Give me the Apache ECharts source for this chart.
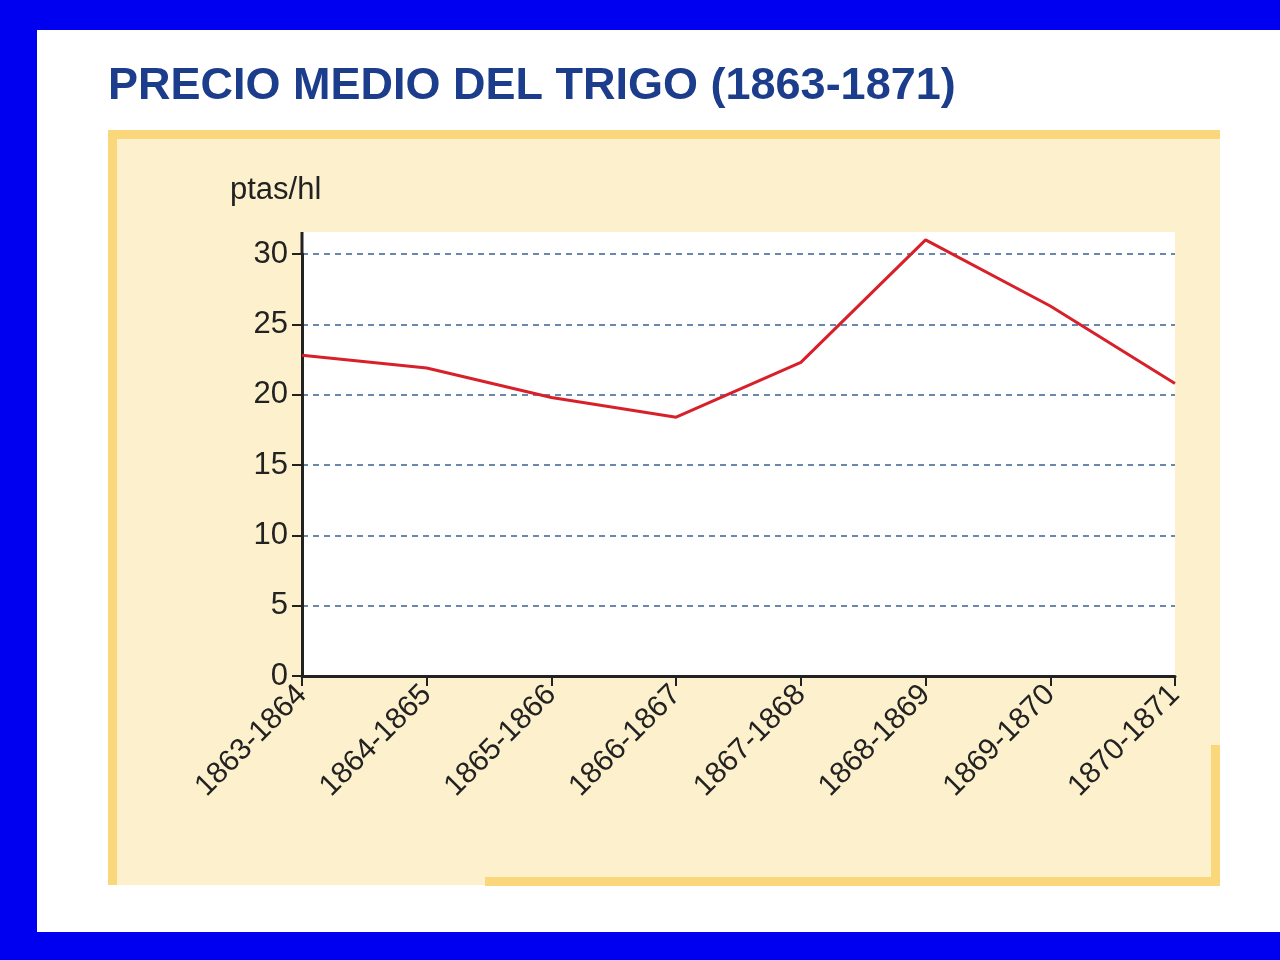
<!DOCTYPE html>
<html>
<head>
<meta charset="utf-8">
<script src="https://cdn.jsdelivr.net/npm/echarts@6/dist/echarts.min.js"></script>
<style>
  html, body { margin: 0; padding: 0; background: #0000f0; }
  #chart { width: 1280px; height: 960px; }
</style>
</head>
<body>
<div id="chart"></div>
<script>
let periods = ["1863-1864", "1864-1865", "1865-1866", "1866-1867", "1867-1868", "1868-1869", "1869-1870", "1870-1871"];
let wheatPrice = [22.8, 21.9, 19.8, 18.4, 22.3, 31.0, 26.3, 20.8];

let myChart = echarts.init(document.getElementById("chart"));
let font = '"Liberation Sans", Arial, sans-serif';
let yellow = "#f9d77a";

let option = {
    backgroundColor: "#0000f0",
    animation: false,
    textStyle: { fontFamily: font },
    graphic: [
        // white panel
        { type: "rect", z: -10, shape: { x: 37, y: 30, width: 1243, height: 902 }, style: { fill: "#ffffff" } },
        // cream box
        { type: "rect", z: -9, shape: { x: 108, y: 130, width: 1112, height: 755 }, style: { fill: "#fdf0cc" } },
        // yellow borders
        { type: "rect", z: -8, shape: { x: 108, y: 130, width: 1112, height: 9 }, style: { fill: yellow } },
        { type: "rect", z: -8, shape: { x: 108, y: 130, width: 9, height: 755 }, style: { fill: yellow } },
        { type: "rect", z: -8, shape: { x: 485, y: 877, width: 735, height: 9 }, style: { fill: yellow } },
        { type: "rect", z: -8, shape: { x: 1211, y: 745, width: 9, height: 141 }, style: { fill: yellow } },
        // plot area headroom above 30
        { type: "rect", z: -7, shape: { x: 302, y: 232, width: 873, height: 23 }, style: { fill: "#ffffff" } },
        { type: "line", z: 5, shape: { x1: 302, y1: 232, x2: 302, y2: 255 }, style: { stroke: "#222", lineWidth: 3 } },
        {
            type: "text", left: 108, top: 64,
            style: { text: "PRECIO MEDIO DEL TRIGO (1863-1871)", fill: "#1c3c8c", font: "bold 45px " + font }
        },
        {
            type: "text", left: 230, top: 175,
            style: { text: "ptas/hl", fill: "#222", font: "31px " + font }
        }
    ],
    grid: { left: 302, right: 105, top: 254, bottom: 284, show: true, backgroundColor: "#ffffff", borderWidth: 0 },
    xAxis: {
        type: "category",
        data: periods,
        boundaryGap: false,
        axisLine: { lineStyle: { color: "#222", width: 3 } },
        axisTick: { show: true, length: 10, alignWithLabel: true, lineStyle: { color: "#222", width: 2 } },
        axisLabel: { rotate: 45, fontSize: 30, color: "#222", margin: 14 }
    },
    yAxis: {
        type: "value",
        min: 0,
        max: 30,
        interval: 5,
        axisLine: { show: true, lineStyle: { color: "#222", width: 3 } },
        axisTick: { show: true, length: 10, lineStyle: { color: "#222", width: 2 } },
        axisLabel: { fontSize: 31, color: "#222", margin: 14 },
        splitLine: { show: true, lineStyle: { color: "#3a6290", type: [6, 5], width: 1.5 } }
    },
    series: [{
        type: "line",
        data: wheatPrice,
        symbol: "none",
        clip: false,
        lineStyle: { color: "#d8202a", width: 3 }
    }]
};
option && myChart.setOption(option);
</script>
</body>
</html>
